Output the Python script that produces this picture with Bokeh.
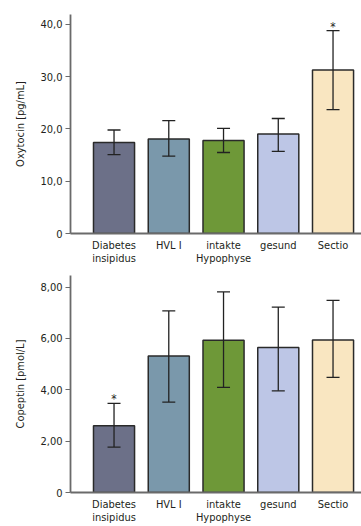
from bokeh.plotting import figure
from bokeh.models import ColumnDataSource, Whisker, TeeHead, FixedTicker, Range1d
from bokeh.layouts import column
from bokeh.embed import file_html
from bokeh.resources import INLINE

categories = ["Diabetes\ninsipidus", "HVL I", "intakte\nHypophyse", "gesund", "Sectio"]
colors = ["#6c7088", "#7a98ab", "#6e9838", "#bdc6e6", "#f9e6c1"]

oxy_mean = [17.4, 18.1, 17.8, 19.05, 31.3]
oxy_lower = [15.1, 14.8, 15.5, 15.7, 23.7]
oxy_upper = [19.8, 21.6, 20.1, 22.0, 38.8]
oxy_sig = [False, False, False, False, True]
oxy_ticks = [0, 10, 20, 30, 40]
oxy_tick_labels = ["0", "10,0", "20,0", "30,0", "40,0"]

cop_mean = [2.6, 5.32, 5.93, 5.65, 5.94]
cop_lower = [1.77, 3.52, 4.09, 3.96, 4.48]
cop_upper = [3.47, 7.07, 7.81, 7.22, 7.48]
cop_sig = [True, False, False, False, False]
cop_ticks = [0, 2, 4, 6, 8]
cop_tick_labels = ["0", "2,00", "4,00", "6,00", "8,00"]

FONT = "DejaVu Sans Condensed, Roboto"
FS = "11px"
TXT = "#231f20"
AX = "#6a6a6a"


def make_panel(mean, lower, upper, sig, ticks, tick_labels, ylabel, ytop,
               height, b_top, b_bottom):
    xs = list(range(len(categories)))
    src = ColumnDataSource(dict(x=xs, top=mean, lower=lower, upper=upper,
                                color=colors))
    p = figure(width=361, height=height, output_backend="svg",
               toolbar_location=None,
               x_range=Range1d(-0.795, 4.52), y_range=Range1d(0, ytop),
               min_border_left=70, min_border_right=0,
               min_border_top=b_top, min_border_bottom=b_bottom)
    p.outline_line_color = None
    p.xgrid.visible = False
    p.ygrid.visible = False
    p.background_fill_color = "white"
    p.border_fill_color = "white"

    p.vbar(x="x", top="top", bottom=0, width=0.75, fill_color="color",
           line_color="#2a2a2a", line_width=1.5, source=src)

    w = Whisker(base="x", upper="upper", lower="lower", source=src,
                level="overlay",
                line_color="#222222", line_width=1.3,
                upper_head=TeeHead(size=13, line_color="#222222", line_width=1.3),
                lower_head=TeeHead(size=13, line_color="#222222", line_width=1.3))
    p.add_layout(w)

    sx = [x for x, s in zip(xs, sig) if s]
    sy = [u for u, s in zip(upper, sig) if s]
    p.text(x=sx, y=sy, text=["*"] * len(sx), text_align="center",
           text_baseline="bottom", text_font_size="12px", text_color=TXT,
           text_font={"value": FONT}, y_offset=3)

    xa = p.xaxis[0]
    xa.ticker = FixedTicker(ticks=xs)
    xa.major_label_overrides = {x: c for x, c in zip(xs, categories)}
    xa.major_tick_line_color = None
    xa.major_tick_out = 0
    xa.major_tick_in = 0
    xa.minor_tick_line_color = None
    xa.axis_line_color = AX
    xa.axis_line_width = 1.8
    xa.major_label_standoff = 5
    xa.major_label_text_font = FONT
    xa.major_label_text_font_size = FS
    xa.major_label_text_line_height = 1.0
    xa.major_label_text_color = TXT

    ya = p.yaxis[0]
    ya.ticker = FixedTicker(ticks=ticks)
    ya.major_label_overrides = {t: l for t, l in zip(ticks, tick_labels)}
    ya.major_tick_out = 5
    ya.major_tick_in = 0
    ya.major_tick_line_color = AX
    ya.major_tick_line_width = 1.2
    ya.minor_tick_line_color = None
    ya.axis_line_color = AX
    ya.axis_line_width = 1.8
    ya.major_label_standoff = 3
    ya.major_label_text_font = FONT
    ya.major_label_text_font_size = FS
    ya.major_label_text_color = TXT
    ya.axis_label = ylabel
    ya.axis_label_text_font = FONT
    ya.axis_label_text_font_style = "normal"
    ya.axis_label_text_font_size = FS
    ya.axis_label_text_color = TXT
    ya.axis_label_standoff = 10
    return p


p1 = make_panel(oxy_mean, oxy_lower, oxy_upper, oxy_sig, oxy_ticks,
                oxy_tick_labels, "Oxytocin [pg/mL]", 41.9, 268, 14, 35)
p2 = make_panel(cop_mean, cop_lower, cop_upper, cop_sig, cop_ticks,
                cop_tick_labels, "Copeptin [pmol/L]", 8.45, 258, 7, 33)

layout = column(p1, p2, spacing=0)
open("out.html", "w").write(file_html(layout, INLINE))
